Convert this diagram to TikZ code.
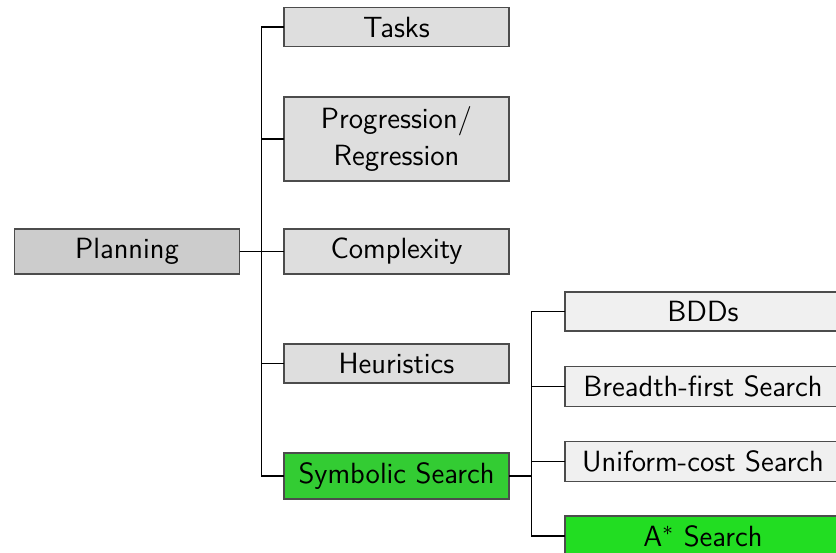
\documentclass[tikz,border=0pt]{standalone}
\usetikzlibrary{calc}
\definecolor{lvlzero}{HTML}{CCCCCC}
\definecolor{lvlone}{HTML}{DEDEDE}
\definecolor{lvltwo}{HTML}{F0F0F0}
\definecolor{greenone}{HTML}{33CC33}
\definecolor{greentwo}{HTML}{22DD22}
\begin{document}
\begin{tikzpicture}[x=0.4pt,y=-0.4pt,
  box/.style={draw=black!70,line width=0.6pt,outer sep=0pt,inner xsep=4pt,inner ysep=3.75pt,
    font=\sffamily\fontsize{11.7}{14.8}\selectfont,align=center},
  rootbox/.style={box,fill=lvlzero,minimum width=90pt},
  firstbox/.style={box,fill=lvlone,minimum width=90pt},
  secondbox/.style={box,fill=lvltwo,minimum width=110.4pt},
  link/.style={draw=black,line width=0.5pt}]
\useasboundingbox (0,0) rectangle (836,553);
\node[rootbox] (planning) at (127,251.5) {Planning};
\node[firstbox] (tasks) at (396.5,27) {Tasks};
\node[firstbox] (prog) at (396.5,139) {Progression/\\Regression};
\node[firstbox] (complexity) at (396.5,251.5) {Complexity};
\node[firstbox] (heuristics) at (396.5,363.5) {Heuristics};
\node[firstbox,fill=greenone] (symbolic) at (396.5,476) {Symbolic Search};
\node[secondbox] (bdds) at (703,311.5) {BDDs};
\node[secondbox] (bfs) at (703,386.5) {Breadth-first Search};
\node[secondbox] (ucs) at (703,461.5) {Uniform-cost Search};
\node[secondbox,fill=greentwo] (astar) at (703,536) {A$^*$ Search};
\foreach \c in {tasks,prog,complexity,heuristics,symbolic}
  \draw[link] (planning.east) -- ++(22,0) |- (\c.west);
\foreach \c in {bdds,bfs,ucs,astar}
  \draw[link] (symbolic.east) -- ++(22.5,0) |- (\c.west);
\end{tikzpicture}
\end{document}
